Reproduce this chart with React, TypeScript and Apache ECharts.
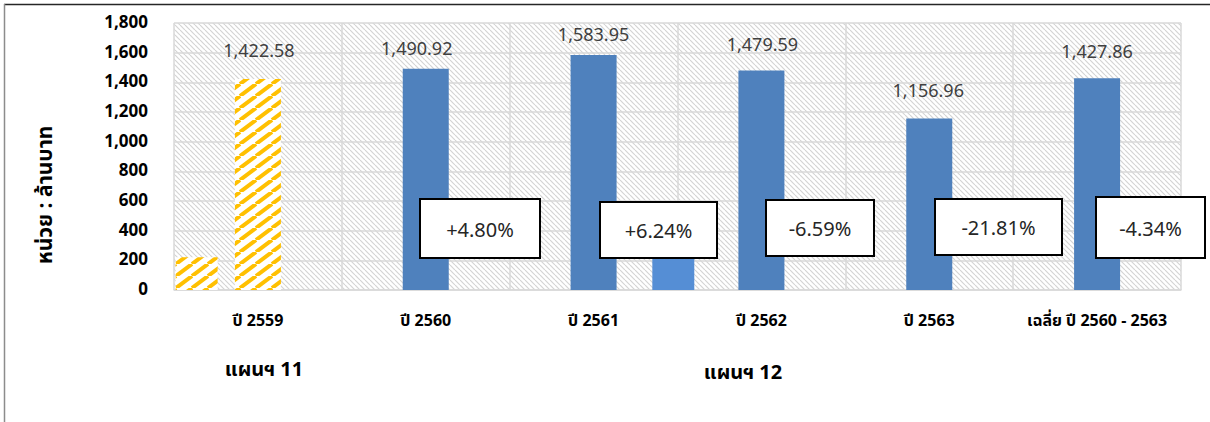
import React, { useEffect, useRef } from 'react';
import * as echarts from 'echarts';

// ---------- data ----------
const categories = ['ปี 2559', 'ปี 2560', 'ปี 2561', 'ปี 2562', 'ปี 2563', 'เฉลี่ย ปี 2560 - 2563'];
const values = [1422.58, 1490.92, 1583.95, 1479.59, 1156.96, 1427.86];
const yMin = 0;
const yMax = 1800;
const yInterval = 200;
const extraCategoryIndex = [0, 2];
const extraValues = [220, 215];
const changeLabels = ['+4.80%', '+6.24%', '-6.59%', '-21.81%', '-4.34%'];
const planLabels = ['แผนฯ 11', 'แผนฯ 12'];
const yAxisTitle = 'หน่วย : ล้านบาท';

// ---------- layout / style ----------
const FONT = "Tahoma, 'Noto Sans Thai', 'Noto Sans', 'DejaVu Sans', sans-serif";
const BLUE = '#4F81BD';
const LIGHT_BLUE = '#558ED5';
const GRID_LINE = '#D9D9D9';
// per-label [dx, pixels between bar top and label centre]
const labelOffsets: [number, number][] = [[1, 27], [-9, 19], [0, 20], [1, 25], [-1, 27], [0, 26]];
// extra marks: [from, to] fraction of category width measured from category's left edge
const extraSpans: [number, number][] = [[0.01, 0.26], [0.85, 1.1]];
// annotation boxes [x, y, w, h]
const boxRects: [number, number, number, number][] = [
  [420, 199, 120, 59],
  [600, 202, 117, 56],
  [766, 200, 108, 56],
  [935, 199, 127, 56],
  [1096, 197, 109, 61],
];
const planPos: [number, number][] = [[264, 370], [743, 373]];

function makeBgHatch() {
  const s = 5;
  const c = document.createElement('canvas');
  c.width = s;
  c.height = s;
  const g = c.getContext('2d')!;
  g.fillStyle = '#ffffff';
  g.fillRect(0, 0, s, s);
  g.strokeStyle = '#D4D4D4';
  g.lineWidth = 1.2;
  for (const dx of [-s, 0, s]) {
    g.beginPath();
    g.moveTo(dx, 0);
    g.lineTo(dx + s, s);
    g.stroke();
  }
  return { image: c, repeat: 'repeat', imageWidth: s, imageHeight: s };
}

function makeYellowHatch() {
  const w = 16;
  const h = 12;
  const c = document.createElement('canvas');
  c.width = w;
  c.height = h;
  const g = c.getContext('2d')!;
  g.fillStyle = '#ffffff';
  g.fillRect(0, 0, w, h);
  g.strokeStyle = '#FFC000';
  g.lineWidth = 4;
  for (const dx of [-w, 0, w]) {
    g.beginPath();
    g.moveTo(dx, h);
    g.lineTo(dx + w, 0);
    g.stroke();
  }
  return { image: c, repeat: 'repeat', imageWidth: w, imageHeight: h };
}

const fmt = (v: number) =>
  v.toLocaleString('en-US', { minimumFractionDigits: 2, maximumFractionDigits: 2 });

export default function App() {
  const ref = useRef<HTMLDivElement>(null);

  useEffect(() => {
    if (!ref.current) return;
    const chart = echarts.init(ref.current, undefined, { renderer: 'svg' });
    const bgHatch = makeBgHatch();
    const yellowHatch = makeYellowHatch();

    const barData = values.map((v, i) => ({
      value: v,
      itemStyle: { color: i === 0 ? (yellowHatch as any) : BLUE },
      label: {
        offset: [labelOffsets[i][0], -(labelOffsets[i][1] - 9)],
      },
    }));

    const extraData = extraValues.map((v, i) => [extraCategoryIndex[i], v, i]);

    const graphic: any[] = [
      { type: 'line', shape: { x1: 4, y1: 4.5, x2: 1210, y2: 4.5 }, style: { stroke: '#262626', lineWidth: 1.5 }, silent: true },
      { type: 'line', shape: { x1: 4.5, y1: 4, x2: 4.5, y2: 422 }, style: { stroke: '#8C8C8C', lineWidth: 1.5 }, silent: true },
      {
        type: 'text',
        x: 45,
        y: 195,
        rotation: Math.PI / 2,
        style: {
          text: yAxisTitle,
          fontSize: 21,
          fontWeight: 'bold',
          fontFamily: FONT,
          fill: '#000',
          align: 'center',
          verticalAlign: 'middle',
        },
        silent: true,
      },
    ];
    planLabels.forEach((t, i) => {
      graphic.push({
        type: 'text',
        x: planPos[i][0],
        y: planPos[i][1],
        style: {
          text: t,
          fontSize: 20,
          fontWeight: 'bold',
          fontFamily: FONT,
          fill: '#000',
          align: 'center',
          verticalAlign: 'middle',
        },
        silent: true,
      });
    });
    changeLabels.forEach((t, i) => {
      const [x, y, w, h] = boxRects[i];
      graphic.push({
        type: 'rect',
        shape: { x, y, width: w, height: h },
        style: { fill: '#fff', stroke: '#000', lineWidth: 2 },
        z: 100,
        silent: true,
      });
      graphic.push({
        type: 'text',
        x: x + w / 2,
        y: y + h / 2 + 2,
        z: 101,
        style: {
          text: t,
          fontSize: 20,
          fontFamily: FONT,
          fill: '#262626',
          align: 'center',
          verticalAlign: 'middle',
        },
        silent: true,
      });
    });

    chart.setOption({
      animation: false,
      backgroundColor: '#ffffff',
      grid: {
        left: 174,
        right: 29,
        top: 23,
        bottom: 132,
        show: true,
        backgroundColor: bgHatch as any,
        borderWidth: 0,
      },
      xAxis: {
        type: 'category',
        data: categories,
        axisLine: { show: true, lineStyle: { color: GRID_LINE, width: 1.5 } },
        axisTick: { show: false },
        splitLine: { show: true, lineStyle: { color: GRID_LINE, width: 1.5 } },
        axisLabel: {
          interval: 0,
          margin: 23,
          fontSize: 16,
          fontWeight: 'bold',
          fontFamily: FONT,
          color: '#000',
        },
      },
      yAxis: {
        type: 'value',
        min: yMin,
        max: yMax,
        interval: yInterval,
        axisLine: { show: false },
        axisTick: { show: false },
        splitLine: { show: true, lineStyle: { color: GRID_LINE, width: 1.5 } },
        axisLabel: {
          margin: 26,
          fontSize: 17,
          fontWeight: 'bold',
          fontFamily: FONT,
          color: '#000',
          formatter: (v: number) => v.toLocaleString('en-US'),
        },
      },
      series: [
        {
          type: 'bar',
          data: barData,
          barWidth: 46,
          label: {
            show: true,
            position: 'top',
            distance: 0,
            fontSize: 18,
            fontFamily: FONT,
            color: '#404040',
            formatter: (p: any) => fmt(p.value),
          },
        },
        {
          type: 'custom',
          data: extraData,
          renderItem: (params: any, api: any) => {
            const cat = api.value(0);
            const v = api.value(1);
            const idx = api.value(2);
            const base = api.coord([cat, 0]);
            const top = api.coord([cat, v]);
            const w = api.size([1, 0])[0];
            const leftEdge = base[0] - w / 2;
            const [f0, f1] = extraSpans[idx];
            const x0 = leftEdge + f0 * w;
            const x1 = leftEdge + f1 * w;
            return {
              type: 'rect',
              shape: { x: x0, y: top[1], width: x1 - x0, height: base[1] - top[1] },
              style: { fill: idx === 0 ? (yellowHatch as any) : LIGHT_BLUE },
            };
          },
        },
      ],
      graphic,
    });

    return () => chart.dispose();
  }, []);

  return (
    <div
      ref={ref}
      style={{ position: 'absolute', left: 0, top: 0, width: 1210, height: 422, background: '#fff' }}
    />
  );
}
